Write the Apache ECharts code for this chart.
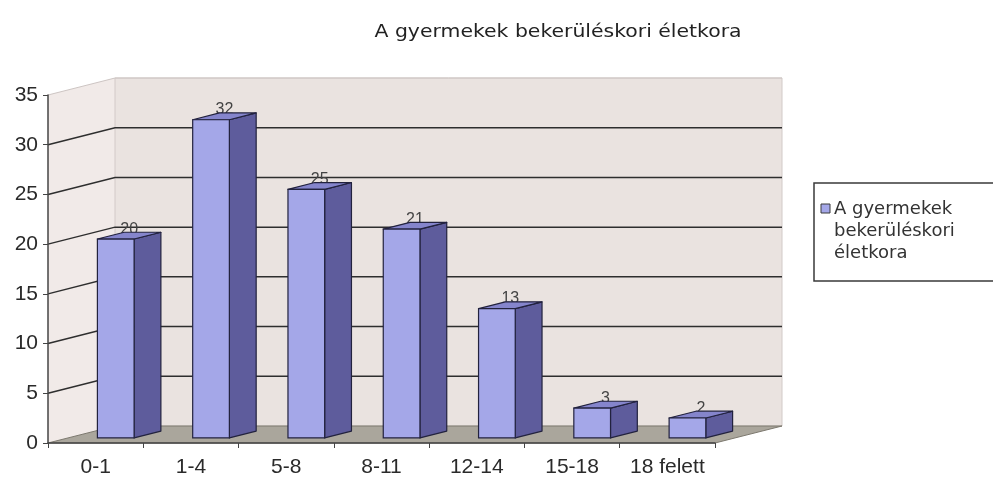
<!DOCTYPE html>
<html>
<head>
<meta charset="utf-8">
<title>A gyermekek bekerüléskori életkora</title>
<script src="https://cdn.jsdelivr.net/npm/echarts@6/dist/echarts.min.js"></script>
<style>
html, body { margin: 0; padding: 0; background: #fff; }
#chart { width: 993px; height: 481px; }
</style>
</head>
<body>
<div id="chart"></div>
<script>
// adatok
var categories = ['0-1', '1-4', '5-8', '8-11', '12-14', '15-18', '18 felett'];
var values = [20, 32, 25, 21, 13, 3, 2];
var yTicks = [0, 5, 10, 15, 20, 25, 30, 35];
var titleText = 'A gyermekek bekerüléskori életkora';
var legendLines = ['A gyermekek', 'bekerüléskori', 'életkora'];

// 3D hatas: a mélység vektora pixelben, es az oszlopok mélysége (0..1)
var DX = 67, DY = -17;
var D0 = 0.3, D1 = 0.7;
var BAR_W = 0.385;

var barData = values.map(function (v, i) { return [i, v]; });

function renderWalls(params, api) {
    var cs = params.coordSys;
    var L = cs.x, R = cs.x + cs.width;
    var y0 = api.coord([0, yTicks[0]])[1];
    var yTop = api.coord([0, yTicks[yTicks.length - 1]])[1];
    var children = [];
    // bal fal
    children.push({
        type: 'polygon',
        shape: { points: [[L, y0], [L, yTop], [L + DX, yTop + DY], [L + DX, y0 + DY]] },
        style: { fill: '#f1eae8' }
    });
    // hátsó fal
    children.push({
        type: 'rect',
        shape: { x: L + DX, y: yTop + DY, width: R - L, height: y0 - yTop },
        style: { fill: '#eae3e0', stroke: '#d2cac8', lineWidth: 1 }
    });
    // padló
    children.push({
        type: 'polygon',
        shape: { points: [[L, y0], [L + DX, y0 + DY], [R + DX, y0 + DY], [R, y0]] },
        style: { fill: '#aaa69c', stroke: '#7d796f', lineWidth: 1 }
    });
    // rácsvonalak
    yTicks.forEach(function (t, k) {
        if (k === 0) return;
        var y = api.coord([0, t])[1];
        var last = k === yTicks.length - 1;
        children.push({
            type: 'polyline',
            shape: { points: [[L, y], [L + DX, y + DY], [R + DX, y + DY]] },
            style: { stroke: last ? '#cdc5c3' : '#2e2e2e', lineWidth: last ? 1 : 1.5, fill: null }
        });
    });
    return { type: 'group', children: children };
}

function renderBar(params, api) {
    var i = api.value(0), v = api.value(1);
    var base = api.coord([i, 0]);
    var top = api.coord([i, v]);
    var w = api.size([1, 0])[0] * BAR_W;
    var fx0 = base[0] - w / 2 + DX * D0, fx1 = fx0 + w;
    var fyb = base[1] + DY * D0, fyt = top[1] + DY * D0;
    var sx = DX * (D1 - D0), sy = DY * (D1 - D0);
    var edge = '#22223e';
    return {
        type: 'group',
        children: [
            {
                type: 'text',
                style: {
                    text: String(v), x: base[0] + DX * 0.5, y: fyt + sy - 3,
                    align: 'center', verticalAlign: 'middle',
                    font: '16px "Liberation Sans"', fill: '#444'
                }
            },
            {
                type: 'polygon',
                shape: { points: [[fx1, fyb], [fx1 + sx, fyb + sy], [fx1 + sx, fyt + sy], [fx1, fyt]] },
                style: { fill: '#5e5c9c', stroke: edge, lineWidth: 1.2, lineJoin: 'round' }
            },
            {
                type: 'polygon',
                shape: { points: [[fx0, fyt], [fx0 + sx, fyt + sy], [fx1 + sx, fyt + sy], [fx1, fyt]] },
                style: { fill: '#8585cc', stroke: edge, lineWidth: 1.2, lineJoin: 'round' }
            },
            {
                type: 'rect',
                shape: { x: fx0, y: fyt, width: w, height: fyb - fyt },
                style: { fill: '#a4a7e8', stroke: edge, lineWidth: 1.2 }
            }
        ]
    };
}

var legendChildren = [
    { type: 'rect', shape: { x: 0, y: 0, width: 200, height: 98 }, style: { fill: '#fff', stroke: '#3a3a3a', lineWidth: 1.5 } },
    { type: 'rect', shape: { x: 7, y: 21, width: 9, height: 9 }, style: { fill: '#a4a7e8', stroke: '#3a3a3a', lineWidth: 1 } }
];
legendLines.forEach(function (s, k) {
    legendChildren.push({
        type: 'text', x: 20, y: 26 + k * 22,
        style: { text: s, font: '18px "DejaVu Sans"', fill: '#333', verticalAlign: 'middle' }
    });
});

var chart = echarts.init(document.getElementById('chart'));
chart.setOption({
    animation: false,
    backgroundColor: '#fff',
    grid: { left: 48, top: 95, width: 667, height: 348 },
    xAxis: {
        type: 'category',
        data: categories,
        z: 5,
        axisLine: { show: true, lineStyle: { color: '#444', width: 1.5 } },
        axisTick: { show: true, length: 5, alignWithLabel: false, lineStyle: { color: '#444' } },
        axisLabel: { interval: 0, margin: 14, fontSize: 21, fontFamily: 'Liberation Sans', color: '#2a2a2a' },
        splitLine: { show: false }
    },
    yAxis: {
        type: 'value',
        min: 0, max: 35, interval: 5,
        z: 5,
        axisLine: { show: true, lineStyle: { color: '#444', width: 1.5 } },
        axisTick: { show: true, length: 5, lineStyle: { color: '#444' } },
        axisLabel: { margin: 10, fontSize: 21, fontFamily: 'Liberation Sans', color: '#2a2a2a' },
        splitLine: { show: false }
    },
    graphic: [
        {
            type: 'text', x: 558, y: 33, scaleX: 1.2,
            style: { text: titleText, font: '17px "DejaVu Sans"', fill: '#222', align: 'center', verticalAlign: 'middle' }
        },
        { type: 'group', x: 814, y: 183, children: legendChildren }
    ],
    series: [
        { type: 'custom', name: 'walls', silent: true, z: 1, data: [[0, 0]], renderItem: renderWalls },
        { type: 'custom', name: titleText, silent: true, z: 3, data: barData, renderItem: renderBar }
    ]
});
</script>
</body>
</html>
